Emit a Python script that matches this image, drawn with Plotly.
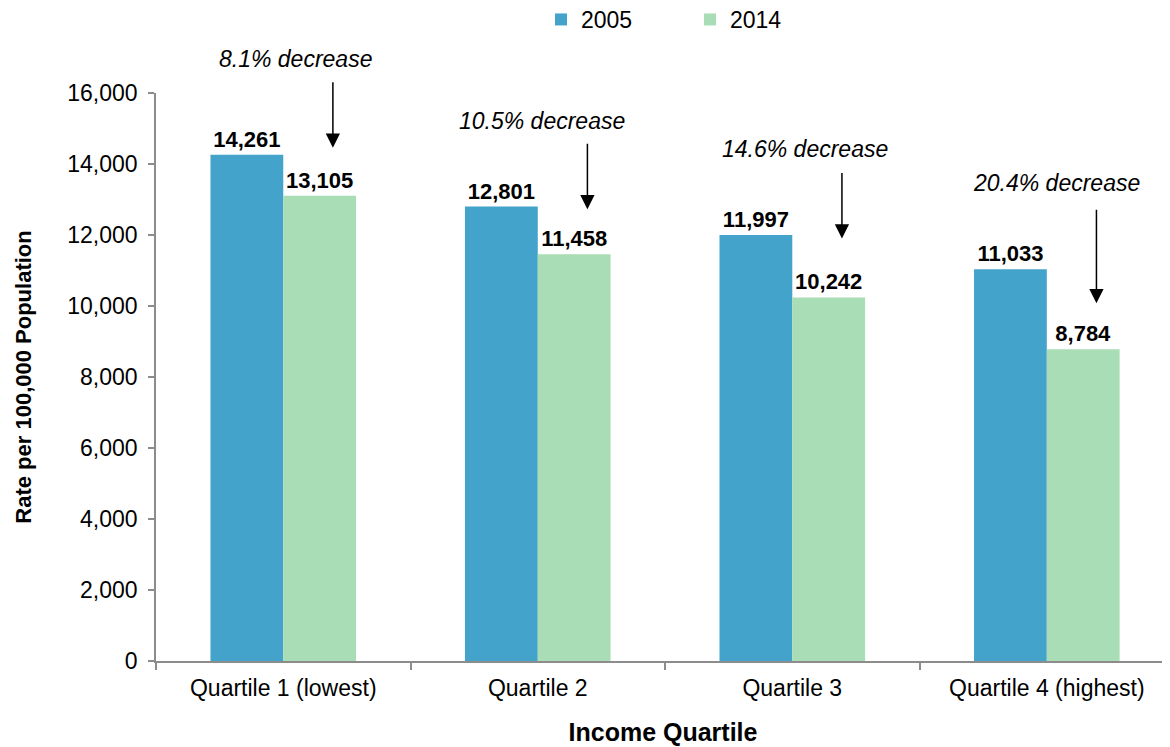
import plotly.graph_objects as go

categories = ["Quartile 1 (lowest)", "Quartile 2", "Quartile 3", "Quartile 4 (highest)"]
values_2005 = [14261, 12801, 11997, 11033]
values_2014 = [13105, 11458, 10242, 8784]
series_names = ["2005", "2014"]
y_ticks = [0, 2000, 4000, 6000, 8000, 10000, 12000, 14000, 16000]

pct_labels = [f"{(a - b) / a * 100:.1f}% decrease" for a, b in zip(values_2005, values_2014)]

FONT = "Liberation Sans, Arial, sans-serif"
c2005 = "#43A3CB"
c2014 = "#A9DDB5"
axis_col = "#8C8C8C"

W, H = 1162, 739
ML, MT, MB = 148, 85, 86
PLOT_H = H - MT - MB
PLOT_W = W - ML

fig = go.Figure()
for name, vals, col in [(series_names[0], values_2005, c2005), (series_names[1], values_2014, c2014)]:
    fig.add_trace(go.Bar(
        x=categories, y=vals, name=name,
        marker=dict(color=col, line=dict(width=0)),
        text=[f"{v:,}" for v in vals], textposition="outside", constraintext="none",
        textfont=dict(family=FONT, size=22, color="black", weight="bold"),
        cliponaxis=False,
    ))

# annotation styling: arrow x offset (category units), tip shift px, arrow length px, text offsets
arrow_dx = 0.195
tip_shift = [48, 45, 59, 46]
arrow_len = [67, 67, 67, 95]
text_xshift = [-37, -45, -37, -40]
text_gap = [22, 21, 22, 25]

for i, (lab, v) in enumerate(zip(pct_labels, values_2014)):
    fig.add_annotation(
        x=i + arrow_dx, y=v, xref="x", yref="y", text="", showarrow=True,
        ax=0, ay=-arrow_len[i], yshift=tip_shift[i],
        arrowhead=2, arrowsize=1.9, arrowwidth=1.5, arrowcolor="black",
    )
    fig.add_annotation(
        x=i + arrow_dx, y=v, xref="x", yref="y", text=f"<i>{lab}</i>", showarrow=False,
        xshift=text_xshift[i], yshift=tip_shift[i] + arrow_len[i] + text_gap[i],
        font=dict(family=FONT, size=23, color="black"),
        xanchor="center", yanchor="middle",
    )

fig.update_layout(
    width=W, height=H,
    margin=dict(l=ML, r=0, t=MT, b=MB, autoexpand=False),
    paper_bgcolor="white", plot_bgcolor="white",
    barmode="group", bargap=0.428, bargroupgap=0,
    font=dict(family=FONT, size=20, color="black"),
    showlegend=True,
    legend=dict(orientation="h", x=(533 - ML) / PLOT_W, xref="paper", y=1 + (MT - 11.5) / PLOT_H, yref="paper",
                xanchor="left", yanchor="middle", entrywidth=104,
                font=dict(family=FONT, size=23, color="black"), itemwidth=30, traceorder="normal"),
    xaxis=dict(
        range=[-0.5, 3.484], showline=True, linecolor=axis_col, linewidth=1.5,
        ticks="outside", tickson="boundaries", ticklen=7, tickcolor=axis_col, tickwidth=1.5,
        tickfont=dict(family=FONT, size=23, color="black"), ticklabelstandoff=6, tickangle=0,
        title=dict(text="<b>Income Quartile</b>", font=dict(family=FONT, size=25, color="black"), standoff=23),
        showgrid=False, fixedrange=True, automargin=False,
    ),
    yaxis=dict(
        range=[0, 16000], tickvals=y_ticks, tickformat=",", showline=True, linecolor=axis_col, linewidth=1.5,
        ticks="outside", ticklen=6, tickcolor=axis_col, tickwidth=1.5,
        tickfont=dict(family=FONT, size=23, color="black"), ticklabelstandoff=6,
        title=dict(text="<b>Rate per 100,000 Population</b>", font=dict(family=FONT, size=22, color="black"), standoff=30),
        showgrid=False, zeroline=False, fixedrange=True, automargin=False,
    ),
)

fig.write_html("out.html")
